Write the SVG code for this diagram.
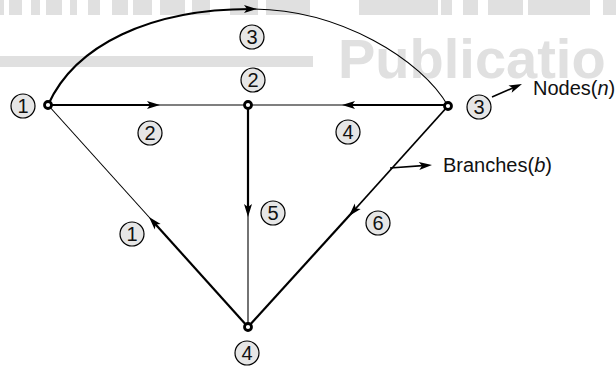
<svg xmlns="http://www.w3.org/2000/svg" width="616" height="366" viewBox="0 0 616 366">
  <defs>
    <marker id="ah" markerUnits="userSpaceOnUse" markerWidth="15" markerHeight="10" viewBox="-8 -5 15 10" refX="0" refY="0" orient="auto">
      <path d="M6,0 L-7,-4 L-4,0 L-7,4 Z" fill="#000"/>
    </marker>
    <style>
      .thick{stroke:#000;stroke-width:2.2;fill:none}
      .thin{stroke:#000;stroke-width:1.1;fill:none}
      .ptr{stroke:#000;stroke-width:1.6;fill:none}
      .ring{fill:#fff;stroke:#000;stroke-width:2.8}
      .lbl circle{fill:#e6e6e6;stroke:#000;stroke-width:1.2}
      .lbl text{font-family:"Liberation Sans",Arial,sans-serif;font-size:20px;text-anchor:middle;fill:#111}
      .note{font-family:"Liberation Sans",Arial,sans-serif;font-size:20px;fill:#111}
      .wm{fill:#e0e0e0}
    </style>
  </defs>

  <g id="watermark" class="wm">
    <rect x="0" y="0" width="4" height="15"/>
    <rect x="9" y="0" width="13" height="15"/>
    <rect x="31" y="0" width="9" height="15"/>
    <rect x="46" y="0" width="16" height="15"/>
    <rect x="70" y="0" width="7" height="15"/>
    <rect x="88" y="0" width="12" height="15"/>
    <rect x="112" y="0" width="16" height="15"/>
    <rect x="133" y="0" width="19" height="15"/>
    <rect x="160" y="0" width="25" height="15"/>
    <rect x="192" y="0" width="18" height="15"/>
    <rect x="230" y="0" width="28" height="15"/>
    <rect x="266" y="0" width="44" height="15"/>
    <rect x="359" y="0" width="79" height="15"/>
    <rect x="441" y="0" width="11" height="15"/>
    <rect x="463" y="0" width="15" height="15"/>
    <rect x="488" y="0" width="35" height="15"/>
    <rect x="528" y="0" width="62" height="15"/>
    <rect x="603" y="0" width="13" height="15"/>
    <rect x="0" y="56" width="313" height="11"/>
    <text x="338" y="78" font-family="'Liberation Sans',Arial,sans-serif" font-size="56" font-weight="bold">Publicatio</text>
  </g>

  <g id="connectors">
    <!-- branch 3: arc 1 -> 3 -->
    <path class="thick" d="M48,105 C75,45 150,9 251,9" marker-end="url(#ah)"/>
    <path class="thin" d="M251,9 C340,9 422,60 448,106"/>
    <!-- branch 2: 1 -> 2 -->
    <path class="thick" d="M48,105 L154,105" marker-end="url(#ah)"/>
    <path class="thin" d="M154,105 L248,105"/>
    <!-- branch 4: 3 -> 2 -->
    <path class="thick" d="M448,105 L348,105" marker-end="url(#ah)"/>
    <path class="thin" d="M348,105 L248,105"/>
    <!-- branch 5: 2 -> 4 -->
    <path class="thick" d="M248,105 L248,211" marker-end="url(#ah)"/>
    <path class="thin" d="M248,211 L248,327"/>
    <!-- branch 1: 4 -> 1 -->
    <path class="thick" d="M248,327 L153,221.5" marker-end="url(#ah)"/>
    <path class="thin" d="M153,221.5 L48,105"/>
    <!-- branch 6: 3 -> 4 -->
    <path class="thick" d="M448,106 L353,211.5" marker-end="url(#ah)" style="stroke-width:1.8"/>
    <path class="thick" d="M353,211.5 L248,327"/>

    <g class="lbl" id="b3"><circle cx="252" cy="37" r="12"/><text x="252" y="44">3</text></g>
    <g class="lbl" id="b2"><circle cx="150" cy="133" r="12"/><text x="150" y="140">2</text></g>
    <g class="lbl" id="b4"><circle cx="348" cy="132" r="12"/><text x="348" y="139">4</text></g>
    <g class="lbl" id="b5"><circle cx="273" cy="213" r="12"/><text x="273" y="220">5</text></g>
    <g class="lbl" id="b1"><circle cx="132" cy="234" r="12"/><text x="132" y="241">1</text></g>
    <g class="lbl" id="b6"><circle cx="378" cy="223" r="12"/><text x="378" y="230">6</text></g>

    <!-- annotations -->
    <path class="ptr" d="M390,168 L426,165.4" marker-end="url(#ah)"/>
    <path class="ptr" d="M492,97 L516.5,86.3" marker-end="url(#ah)"/>
  </g>

  <g id="node1">
    <circle class="ring" cx="48" cy="105" r="3.5"/>
    <g class="lbl"><circle cx="23" cy="106" r="12"/><text x="23" y="113">1</text></g>
  </g>
  <g id="node2">
    <circle class="ring" cx="248" cy="105" r="3.5"/>
    <g class="lbl"><circle cx="253" cy="80" r="12"/><text x="253" y="87">2</text></g>
  </g>
  <g id="node3">
    <circle class="ring" cx="448" cy="106" r="3.5"/>
    <g class="lbl"><circle cx="479" cy="107" r="12"/><text x="479" y="114">3</text></g>
  </g>
  <g id="node4">
    <circle class="ring" cx="248" cy="327" r="3.5"/>
    <g class="lbl"><circle cx="247" cy="353" r="12"/><text x="247" y="360">4</text></g>
  </g>

  <g id="legend">
    <text class="note" x="533" y="95">Nodes(<tspan font-style="italic">n</tspan>)</text>
    <text class="note" x="443" y="172">Branches(<tspan font-style="italic">b</tspan>)</text>
  </g>
</svg>
